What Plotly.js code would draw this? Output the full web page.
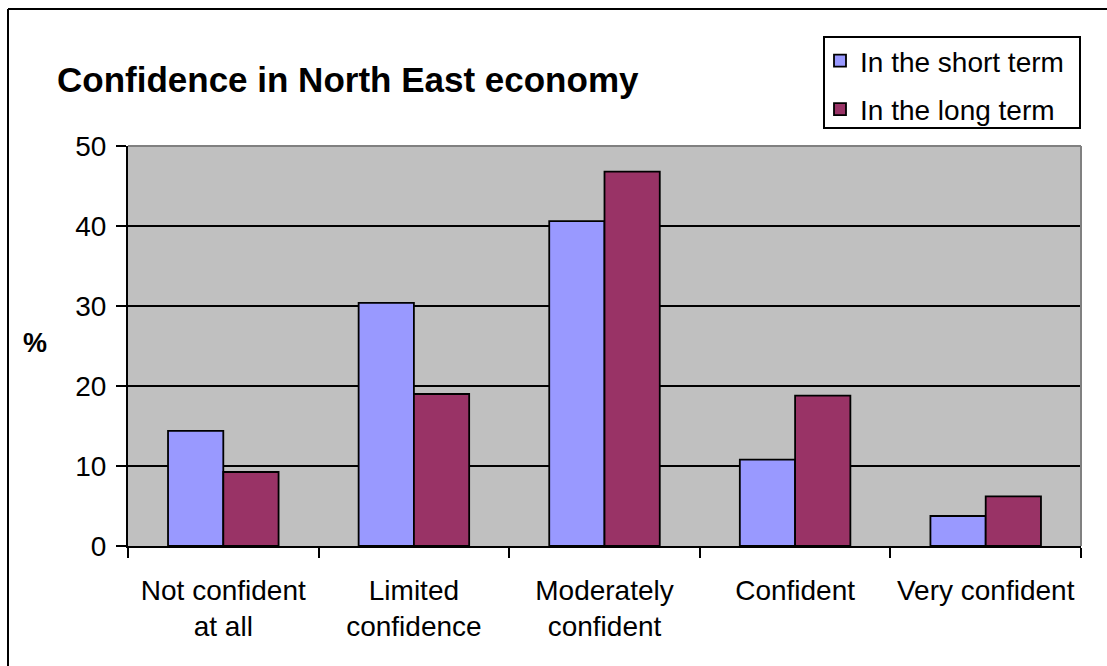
<!DOCTYPE html>
<html>
<head>
<meta charset="utf-8">
<script src="https://cdn.plot.ly/plotly-3.0.1.min.js"></script>
<style>
  html, body { margin: 0; padding: 0; background: #ffffff; }
  #chart { width: 1107px; height: 666px; }
</style>
</head>
<body>
<div id="chart"></div>
<script>
const categories = ['Not confident<br>at all', 'Limited<br>confidence', 'Moderately<br>confident', 'Confident', 'Very confident'];
const shortTerm = [14.4, 30.4, 40.6, 10.8, 3.75];
const longTerm = [9.25, 19.0, 46.8, 18.8, 6.2];
const seriesNames = ['In the short term', 'In the long term'];
const yTicks = [0, 10, 20, 30, 40, 50];

const FONT = 'Liberation Sans, Arial, sans-serif';

const traces = [
  {
    type: 'bar', name: seriesNames[0], x: categories, y: shortTerm,
    legendgroup: 'a',
    marker: { color: '#9999FF', line: { color: '#000000', width: 1.8 } },
    hoverinfo: 'x+y'
  },
  {
    type: 'bar', name: seriesNames[1], x: categories, y: longTerm,
    legendgroup: 'b',
    marker: { color: '#993366', line: { color: '#000000', width: 1.8 } },
    hoverinfo: 'x+y'
  }
];

const W = 1107, H = 666;
const L = 128, R = 26, T = 146, B = 120;
const pw = W - L - R, ph = H - T - B;
const px = v => (v - L) / pw;
const py = v => (H - B - v) / ph;

const layout = {
  width: W, height: H,
  margin: { l: L, r: R, t: T, b: B, pad: 0 },
  paper_bgcolor: '#ffffff',
  plot_bgcolor: '#C0C0C0',
  font: { family: FONT, size: 28, color: '#000000' },
  title: {
    text: '<b>Confidence in North East economy</b>',
    font: { family: FONT, size: 35, color: '#000000' },
    xref: 'container', yref: 'container',
    x: 57 / W, xanchor: 'left',
    y: 1 - 80 / H, yanchor: 'middle'
  },
  barmode: 'group',
  bargap: 0.42,
  bargroupgap: 0,
  showlegend: true,
  legend: {
    x: px(820), xanchor: 'left',
    y: py(36), yanchor: 'top',
    bgcolor: 'rgba(0,0,0,0)',
    borderwidth: 0,
    font: { family: FONT, size: 28, color: '#000000' },
    tracegroupgap: 9,
    traceorder: 'grouped',
    itemwidth: 30
  },
  xaxis: {
    type: 'category',
    tickson: 'boundaries',
    ticks: 'outside', ticklen: 10, tickwidth: 2, tickcolor: '#000000',
    showline: true, linecolor: '#000000', linewidth: 2,
    showgrid: false, zeroline: false,
    tickfont: { family: FONT, size: 28, color: '#000000' },
    ticklabelstandoff: 18,
    fixedrange: true
  },
  yaxis: {
    range: [0, 50],
    tickvals: yTicks,
    ticks: 'outside', ticklen: 10, tickwidth: 2, tickcolor: '#000000',
    showline: true, linecolor: '#000000', linewidth: 2,
    showgrid: true, gridcolor: '#000000', gridwidth: 1.5,
    zeroline: false,
    tickfont: { family: FONT, size: 28, color: '#000000' },
    ticklabelstandoff: 4,
    fixedrange: true
  },
  annotations: [
    {
      text: '<b>%</b>', xref: 'paper', yref: 'paper',
      x: px(35), y: py(343), xanchor: 'center', yanchor: 'middle',
      showarrow: false, font: { family: FONT, size: 27, color: '#000000' }
    }
  ],
  shapes: [
    { type: 'line', xref: 'paper', yref: 'paper', x0: 0, x1: 1, y0: 1, y1: 1,
      line: { color: '#808080', width: 2 }, layer: 'above' },
    { type: 'line', xref: 'paper', yref: 'paper', x0: 1, x1: 1, y0: 0, y1: 1,
      line: { color: '#808080', width: 2 }, layer: 'above' },
    { type: 'line', xref: 'paper', yref: 'paper', x0: px(8), x1: px(8), y0: py(9), y1: py(680),
      line: { color: '#000000', width: 2 } },
    { type: 'line', xref: 'paper', yref: 'paper', x0: px(8), x1: px(1120), y0: py(9), y1: py(9),
      line: { color: '#000000', width: 2 } },
    // legend frame
    { type: 'rect', xref: 'paper', yref: 'paper', x0: px(824), x1: px(1080), y0: py(37), y1: py(128),
      fillcolor: '#ffffff', line: { color: '#000000', width: 2 }, layer: 'above' }
  ]
};

Plotly.newPlot('chart', traces, layout, { displayModeBar: false, staticPlot: true });
</script>
</body>
</html>
